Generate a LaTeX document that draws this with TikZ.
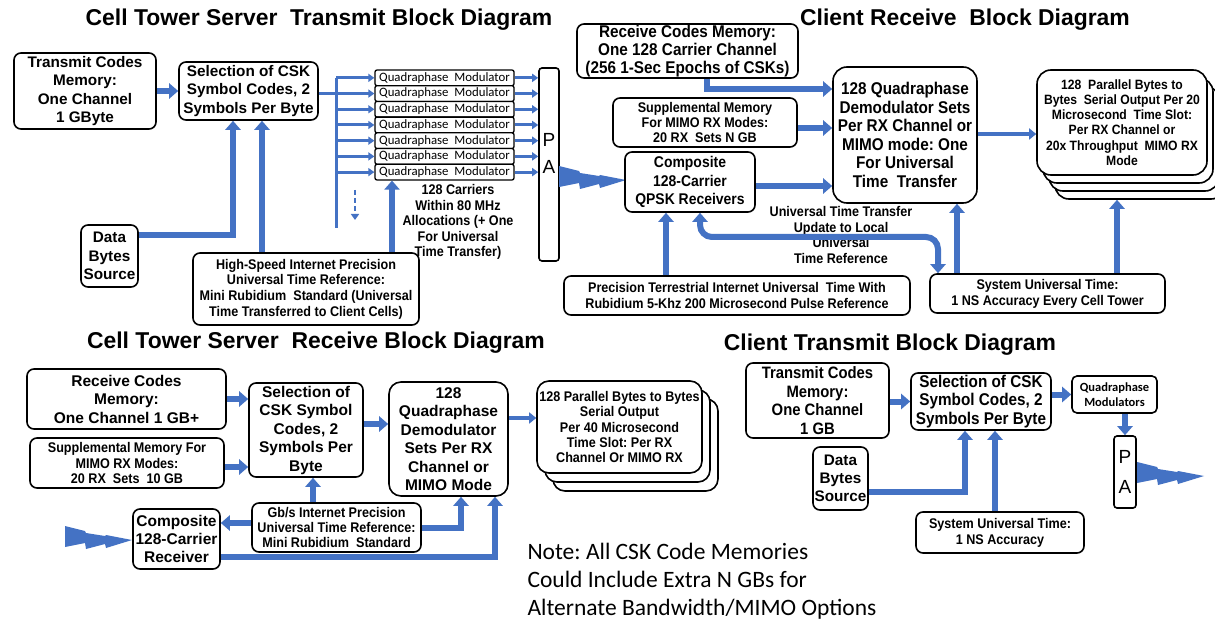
\documentclass[tikz,border=0pt]{standalone}
\usepackage{fontspec}
\setmainfont{Liberation Sans}
\newfontfamily\narrowsans[FakeStretch=0.9]{Liberation Sans}
\newfontfamily\calibrisans{Carlito}
\usetikzlibrary{arrows.meta}
\definecolor{linkblue}{HTML}{4472C4}
\frenchspacing

\tikzset{
  box/.style={draw, line width=1.6pt, rounded corners=7pt, fill=white, align=center, inner sep=0pt},
  modbox/.style={draw, line width=1.3pt, rounded corners=2pt, fill=white, inner sep=0pt,
    minimum width=139pt, minimum height=15.7pt, font=\calibrisans\fontsize{12.8}{13}\selectfont},
  title/.style={font=\bfseries\fontsize{22.9}{26}\selectfont},
  bfont/.style 2 args={font=\bfseries\fontsize{#1}{#2}\selectfont},
  nfont/.style 2 args={font=\narrowsans\bfseries\fontsize{#1}{#2}\selectfont},
  pafont/.style={font=\fontsize{19}{#1}\selectfont},
  fat/.style={draw=linkblue, line width=6pt, -{Triangle[length=9pt, width=15pt]}},
  fatboth/.style={draw=linkblue, line width=6pt, {Triangle[length=9pt, width=15pt]}-{Triangle[length=9pt, width=15pt]}},
  mid/.style={draw=linkblue, line width=4pt, -{Triangle[length=7pt, width=11pt]}},
  slim/.style={draw=linkblue, line width=3pt, -{Triangle[length=6pt, width=8pt]}},
  bus/.style={draw=linkblue, line width=3pt},
  bolt/.pic={
    \fill[linkblue] (0,0) -- (20,5) -- (21,7) -- (40,10) -- (41,9) -- (67,14)
      -- (41,22) -- (40,18) -- (21,23) -- (20,17) -- (0,21) -- cycle;
  }
}

\begin{document}
\begin{tikzpicture}[x=1pt, y=-1pt]
  \useasboundingbox (0,0) rectangle (1215,620);
  \fill[white] (0,0) rectangle (1215,620);

  % Server transmit side
  \node[title] (srvTxTitle) at (319,20) {Cell Tower Server\ \ Transmit Block Diagram};
  \node[box, bfont={15.3}{18.3}, minimum width=142pt, minimum height=76pt] (txMem) at (85,91)
    {Transmit Codes\\Memory:\\One Channel\\1 GByte};
  \node[box, bfont={15.3}{18.3}, minimum width=139pt, minimum height=58pt] (txSel) at (248.5,91)
    {Selection of CSK\\Symbol Codes, 2\\Symbols Per Byte};
  \foreach \i in {1,...,7}
    \node[modbox] (mod\i) at (444.5, {70+15.71*(\i-0.5)}) {Quadraphase\ \ Modulator};
  \node[box, rounded corners=3pt, minimum width=20pt, minimum height=193pt, pafont=27] (pa1) at (549,164.5)
    {\raisebox{6pt}[0pt][0pt]{\begin{tabular}{@{}c@{}}P\\A\end{tabular}}};
  \node[box, bfont={15.3}{18.3}, minimum width=57pt, minimum height=62pt] (srcData) at (109.5,256)
    {Data\\Bytes\\Source};
  \node[box, nfont={14}{15.6}, minimum width=226pt, minimum height=72pt] (txRef) at (306,289)
    {High-Speed Internet Precision\\Universal Time Reference:\\Mini Rubidium\ \ Standard (Universal\\Time Transferred to Client Cells)};
  \node[nfont={14}{15.5}, align=center] (carrierNote) at (458,222)
    {128 Carriers\\Within 80 MHz\\Allocations (+ One\\For Universal\\Time Transfer)};

  \draw[fat] (txMem.east) -- (txMem.east -| txSel.west);
  \coordinate (busJoin) at (336,94);
  \coordinate (busTop) at (336,78);
  \coordinate (busEnd) at (336,228);
  \draw[bus] (busJoin -| txSel.east) -- (busJoin);
  \draw[bus] (busTop) -- (busEnd);
  \foreach \i in {1,...,7} {
    \draw[slim] (mod\i.west -| busTop) -- (mod\i.west);
    \draw[slim] (mod\i.east) -- (mod\i.east -| pa1.west);
  }
  \coordinate (moreTop) at (355,190);
  \coordinate (moreEnd) at (355,220);
  \draw[slim, line width=2pt, dash pattern=on 5pt off 3pt] (moreTop) -- (moreEnd);
  \coordinate (dataBend) at (233,235);
  \draw[fat] (dataBend -| srcData.east) -- (dataBend) -- (dataBend |- txSel.south);
  \coordinate (refUp1) at (262,0);
  \coordinate (refUp2) at (392,0);
  \draw[fat] (refUp1 |- txRef.north) -- (refUp1 |- txSel.south);
  \draw[fat] (refUp2 |- txRef.north) -- (refUp2 |- mod7.south);
  \coordinate (boltTx) at (559,166);
  \pic at (boltTx) {bolt};

  % Client receive side
  \node[title] (cliRxTitle) at (965,20) {Client Receive\ \ Block Diagram};
  \node[box, nfont={17}{18.3}, minimum width=221pt, minimum height=54pt] (rxMem) at (687.5,51)
    {Receive Codes Memory:\\One 128 Carrier Channel\\(256 1-Sec Epochs of CSKs)};
  \node[box, nfont={14}{15.3}, minimum width=184pt, minimum height=49pt] (rxSupp) at (705,122.5)
    {Supplemental Memory\\For MIMO RX Modes:\\20 RX\ \ Sets N GB};
  \node[box, nfont={15.5}{18.7}, minimum width=130pt, minimum height=60pt] (rxComp) at (690,182)
    {Composite\\128-Carrier\\QPSK Receivers};
  \node[box, rounded corners=14pt, nfont={17}{18.5}, minimum width=144pt, minimum height=136pt] (rxDemod) at (905,135)
    {128 Quadraphase\\Demodulator Sets\\Per RX Channel or\\MIMO mode: One\\For Universal\\Time\ \ Transfer};
  \foreach \k in {3,2,1}
    \node[box, rounded corners=14pt, minimum width=170pt, minimum height=105pt, xshift={\k*6pt}, yshift={-\k*8pt}] (outB\k) at (1122,122.5) {};
  \node[box, rounded corners=14pt, nfont={13.5}{15.3}, minimum width=170pt, minimum height=105pt] (rxOut) at (1122,122.5)
    {128\ \ Parallel Bytes to\\Bytes\ \ Serial Output Per 20\\Microsecond\ \ Time Slot:\\Per RX Channel or\\20x Throughput\ \ MIMO RX\\Mode};
  \node[box, nfont={14}{16}, minimum width=346pt, minimum height=39pt] (rxPrec) at (737,295.5)
    {Precision Terrestrial Internet Universal\ \ Time With\\Rubidium 5-Khz 200 Microsecond Pulse Reference};
  \node[box, nfont={14}{16}, minimum width=235pt, minimum height=39pt] (rxSys) at (1047.5,293.5)
    {System Universal Time:\\1 NS Accuracy Every Cell Tower};
  \node[nfont={14}{15.7}, align=center] (syncNote) at (841,235)
    {Universal Time Transfer\\Update to Local\\Universal\\Time Reference};

  \coordinate (memBend) at (707,89);
  \draw[fat] (memBend |- rxMem.south) -- (memBend) -- (memBend -| rxDemod.west);
  \coordinate (suppY) at (0,128);
  \draw[fat] (rxSupp.east |- suppY) -- (rxDemod.west |- suppY);
  \coordinate (compY) at (0,186);
  \draw[fat] (rxComp.east |- compY) -- (rxDemod.west |- compY);
  \coordinate (outY) at (0,134);
  \draw[mid] (rxDemod.east |- outY) -- (rxOut.west |- outY);
  \coordinate (precX) at (666,0);
  \draw[fat] (precX |- rxPrec.north) -- (precX |- rxComp.south);
  \coordinate (syncL) at (700,237);
  \coordinate (syncR) at (938,237);
  \draw[fatboth, rounded corners=12pt] (syncL |- rxComp.south) -- (syncL) -- (syncR) -- (syncR |- rxSys.north);
  \coordinate (sysX1) at (957,0);
  \coordinate (sysX2) at (1117,0);
  \draw[fat] (sysX1 |- rxSys.north) -- (sysX1 |- rxDemod.south);
  \draw[fat] (sysX2 |- rxSys.north) -- (sysX2 |- outB3.south);

  % Server receive side
  \node[title] (srvRxTitle) at (316,343) {Cell Tower Server\ \ Receive Block Diagram};
  \node[box, bfont={15.5}{18.5}, minimum width=199pt, minimum height=60pt] (srvMem) at (126.5,399)
    {Receive Codes\\Memory:\\One Channel 1 GB+};
  \node[box, nfont={14}{15.5}, minimum width=194pt, minimum height=50pt] (srvSupp) at (127,463)
    {Supplemental Memory For\\MIMO RX Modes:\\20 RX\ \ Sets\ \ 10 GB};
  \node[box, bfont={15.5}{18.5}, minimum width=114pt, minimum height=94pt] (srvSel) at (306,430)
    {Selection of\\CSK Symbol\\Codes, 2\\Symbols Per\\Byte};
  \node[box, rounded corners=12pt, bfont={15.5}{18.5}, minimum width=119pt, minimum height=114pt] (srvDemod) at (448.5,439)
    {128\\Quadraphase\\Demodulator\\Sets Per RX\\Channel or\\MIMO Mode};
  \foreach \k in {2,1}
    \node[box, rounded corners=12pt, minimum width=165pt, minimum height=92pt, xshift={\k*8pt}, yshift={-\k*9pt}] (outC\k) at (619.5,427) {};
  \node[box, rounded corners=12pt, nfont={14}{15.4}, minimum width=165pt, minimum height=92pt] (srvOut) at (619.5,427)
    {128 Parallel Bytes to Bytes\\Serial Output\\Per 40 Microsecond\\Time Slot: Per RX\\Channel Or MIMO RX};
  \node[box, nfont={14}{15.3}, minimum width=169pt, minimum height=49pt] (srvRef) at (336.5,527.5)
    {Gb/s Internet Precision\\Universal Time Reference:\\Mini Rubidium\ \ Standard};
  \node[box, bfont={15.5}{18.3}, minimum width=87pt, minimum height=60pt] (srvComp) at (176.5,539)
    {Composite\\128-Carrier\\Receiver};

  \draw[fat] (srvMem.east) -- (srvMem.east -| srvSel.west);
  \coordinate (suppY2) at (0,467);
  \draw[fat] (srvSupp.east |- suppY2) -- (srvSel.west |- suppY2);
  \coordinate (selY2) at (0,424);
  \draw[fat] (srvSel.east |- selY2) -- (srvDemod.west |- selY2);
  \coordinate (outY2) at (0,418);
  \draw[mid] (srvDemod.east |- outY2) -- (srvOut.west |- outY2);
  \coordinate (refX2) at (313,0);
  \draw[fat] (refX2 |- srvRef.north) -- (refX2 |- srvSel.south);
  \coordinate (refY2) at (0,523);
  \draw[fat] (srvRef.west |- refY2) -- (srvComp.east |- refY2);
  \coordinate (refBend) at (461,528);
  \draw[fat] (refBend -| srvRef.east) -- (refBend) -- (refBend |- srvDemod.south);
  \coordinate (compBend) at (495,557);
  \draw[fat] (compBend -| srvComp.east) -- (compBend) -- (compBend |- srvDemod.south);
  \coordinate (boltRx) at (65,526);
  \pic at (boltRx) {bolt};

  % Client transmit side
  \node[title] (cliTxTitle) at (890,345) {Client Transmit Block Diagram};
  \node[box, nfont={16.5}{18.5}, minimum width=143pt, minimum height=75pt] (cliMem) at (817.5,400.5)
    {Transmit Codes\\Memory:\\One Channel\\1 GB};
  \node[box, nfont={17}{18.5}, minimum width=140pt, minimum height=57pt] (cliSel) at (981,401.5)
    {Selection of CSK\\Symbol Codes, 2\\Symbols Per Byte};
  \node[box, rounded corners=5pt, font=\calibrisans\bfseries\fontsize{12.5}{15.5}\selectfont, minimum width=85pt, minimum height=37pt] (cliMod) at (1114.5,394.5)
    {Quadraphase\\Modulators};
  \node[box, rounded corners=3pt, minimum width=22pt, minimum height=72pt, pafont=30] (pa2) at (1125,472) {P\\A};
  \node[box, bfont={15.3}{18.3}, minimum width=55pt, minimum height=63pt] (cliData) at (840.5,478.5)
    {Data\\Bytes\\Source};
  \node[box, nfont={14}{16}, minimum width=168pt, minimum height=41pt] (cliSys) at (1000,532.5)
    {System Universal Time:\\1 NS Accuracy};

  \draw[fat] (cliMem.east |- cliSel.west) -- (cliSel.west);
  \draw[fat] (cliSel.east |- cliMod.west) -- (cliMod.west);
  \draw[fat] (cliMod.south -| pa2.north) -- (pa2.north);
  \coordinate (cliBend) at (965,492);
  \draw[fat] (cliBend -| cliData.east) -- (cliBend) -- (cliBend |- cliSel.south);
  \coordinate (sysX3) at (995,0);
  \draw[fat] (sysX3 |- cliSys.north) -- (sysX3 |- cliSel.south);
  \coordinate (boltCli) at (1137,462);
  \pic at (boltCli) {bolt};

  % Note
  \node[anchor=west, align=left, font=\calibrisans\fontsize{23.5}{28}\selectfont] (memNote) at (524,581)
    {Note: All CSK Code Memories\\Could Include Extra N GBs for\\Alternate Bandwidth/MIMO Options};
\end{tikzpicture}
\end{document}
